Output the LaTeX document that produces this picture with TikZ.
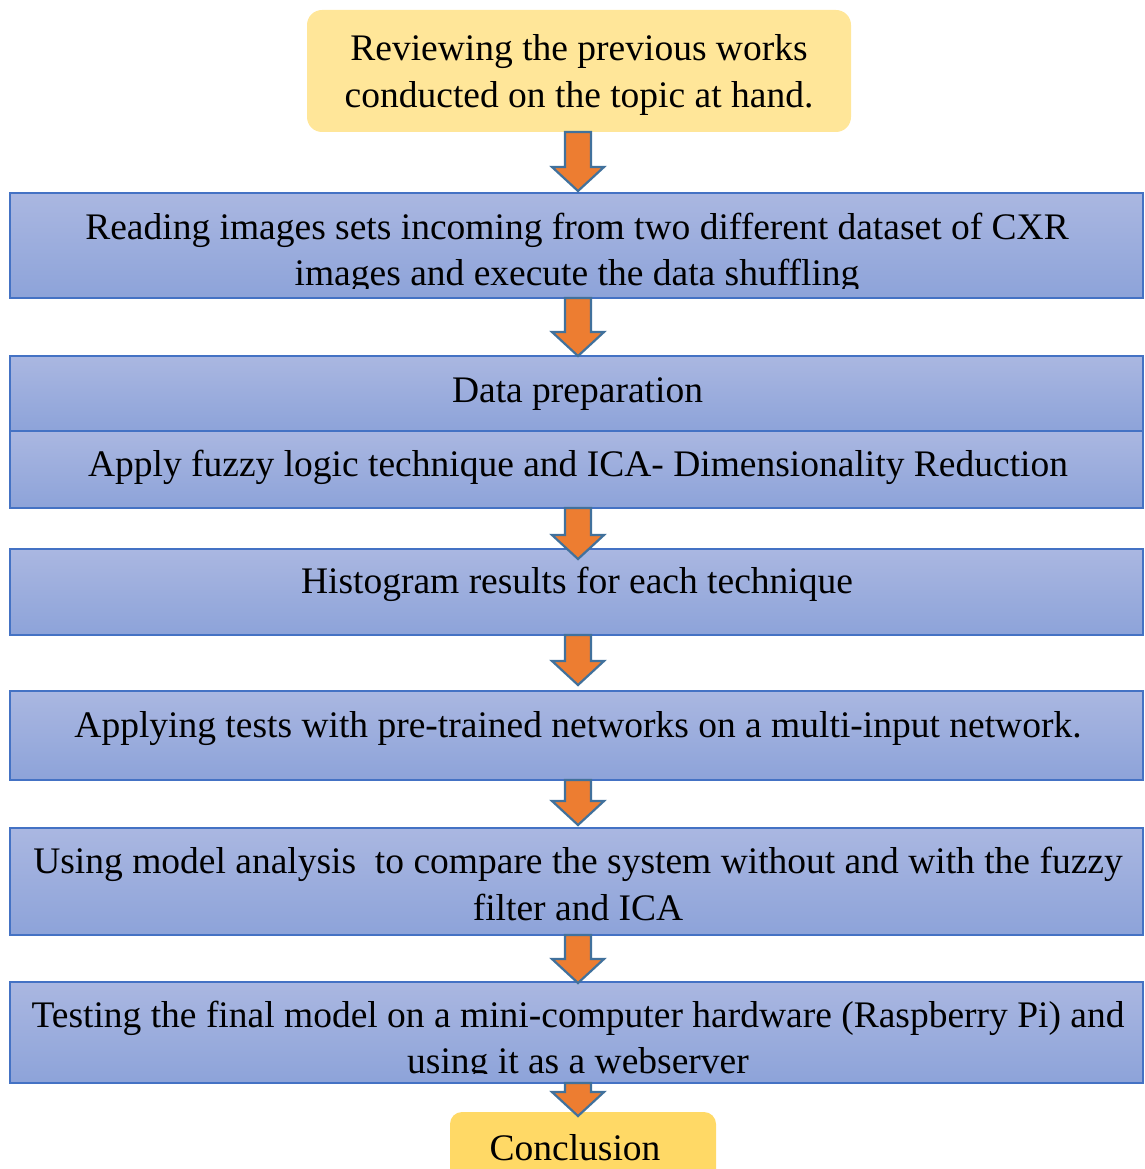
\documentclass[tikz,border=0pt]{standalone}
\usepackage{fontspec}
\setmainfont{Liberation Serif}
\usetikzlibrary{calc}

\definecolor{boxtop}{RGB}{170,183,225}
\definecolor{boxbottom}{RGB}{141,163,217}
\definecolor{boxline}{RGB}{68,114,196}
\definecolor{startfill}{RGB}{255,230,153}
\definecolor{endfill}{RGB}{255,217,102}
\definecolor{arrowfill}{RGB}{237,125,49}
\definecolor{arrowline}{RGB}{65,113,156}

\tikzset{
  stagebox/.style={rectangle, draw=boxline, line width=1.4pt,
    top color=boxtop, bottom color=boxbottom,
    inner sep=0pt, outer sep=0pt, minimum width=1133pt},
  termbox/.style={rectangle, rounded corners=15pt, draw=none,
    inner sep=0pt, outer sep=0pt},
  label text/.style={font=\fontsize{37.5}{46.5}\selectfont, anchor=base,
    inner sep=0pt, align=center},
  blockarrow/.style={fill=arrowfill, draw=arrowline, line width=2.2pt,
    line join=miter},
}

% block arrow from the bottom of one node to the top of the next;
% the optional argument lets the tip run into (+) or stop short of (-) the target
\newcommand\flowarrow[3][0pt]{%
  \path[blockarrow] let \p1=(#2.south), \p2=(#3.north) in
    (578pt-13pt,\y1) -- (578pt+13pt,\y1) -- (578pt+13pt,\y2-#1+24pt)
    -- (578pt+26pt,\y2-#1+24pt) -- (578pt,\y2-#1) -- (578pt-26pt,\y2-#1+24pt)
    -- (578pt-13pt,\y2-#1+24pt) -- cycle;}

\begin{document}
\begin{tikzpicture}[x=1pt,y=-1pt]
\useasboundingbox (0,0) rectangle (1144,1169);

% start and end terminals
\node[termbox, fill=startfill, minimum width=544pt, minimum height=122pt] (start) at (579,71) {};
\node[termbox, rounded corners=12pt, fill=endfill, minimum width=266pt, minimum height=90pt] (finish) at (583,1157) {};

% process stages
\node[stagebox, minimum height=105pt] (read)  at (576.5,245.5) {};
\node[stagebox, minimum height=75pt]  (prep)  at (576.5,393.5) {};
\node[stagebox, minimum height=77pt]  (fuzzy) at (576.5,469.5) {};
\node[stagebox, minimum height=86pt]  (hist)  at (576.5,592) {};
\node[stagebox, minimum height=89pt]  (tests) at (576.5,735.5) {};
\node[stagebox, minimum height=107pt] (model) at (576.5,881.5) {};
\node[stagebox, minimum height=101pt] (hw)    at (576.5,1032.5) {};

% connecting block arrows
\flowarrow[-2pt]{start}{read}
\flowarrow{read}{prep}
\flowarrow[10pt]{fuzzy}{hist}
\flowarrow[-6pt]{hist}{tests}
\flowarrow[-3pt]{tests}{model}
\flowarrow[1pt]{model}{hw}
\flowarrow[4pt]{hw}{finish}

% texts
\node[label text] (tstart1) at (579,61)  {Reviewing the previous works};
\node[label text] (tstart2) at (579,108) {conducted on the topic at hand.};

\begin{scope}
  \clip (10,193) rectangle (1143,288);
  \node[label text] (tread1) at (577,239) {Reading images sets incoming from two different dataset of CXR};
  \node[label text] (tread2) at (577,285) {images and execute the data shuffling};
\end{scope}

\node[label text] (tprep)  at (577.5,402) {Data preparation};
\node[label text] (tfuzzy) at (578,476) {Apply fuzzy logic technique and ICA- Dimensionality Reduction};
\node[label text] (thist)  at (577,593) {Histogram results for each technique};
\node[label text] (ttests) at (578,737) {Applying tests with pre-trained networks on a multi-input network.};
\node[label text] (tmodel1) at (578,873) {Using model analysis\ \ to compare the system without and with the fuzzy};
\node[label text] (tmodel2) at (578,920) {filter and ICA};

\begin{scope}
  \clip (10,982) rectangle (1143,1073);
  \node[label text] (thw1) at (578,1027) {Testing the final model on a mini-computer hardware (Raspberry Pi) and};
  \node[label text] (thw2) at (578,1073) {using it as a webserver};
\end{scope}

\node[label text] (tfinish) at (575,1160) {Conclusion};
\end{tikzpicture}
\end{document}
